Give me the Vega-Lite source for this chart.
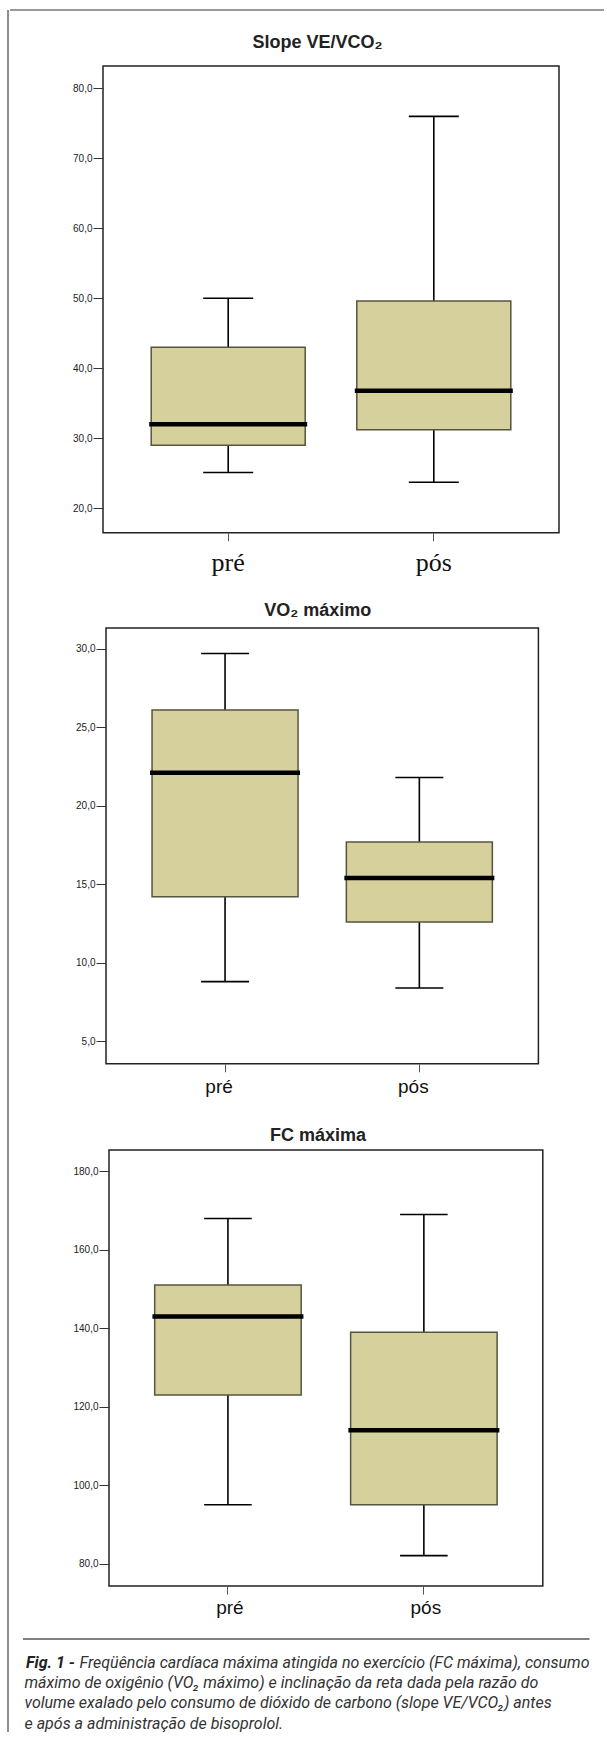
{
  "$schema": "https://vega.github.io/schema/vega-lite/v6.json",
  "background": "white",
  "padding": {"left": 7, "top": 9, "right": 0, "bottom": 0},
  "datasets": {
    "boxes": [
      {"panel": "slope", "group": "pré", "min": 25.1, "q1": 29.0, "median": 32.0, "q3": 43.0, "max": 50.0},
      {"panel": "slope", "group": "pós", "min": 23.7, "q1": 31.2, "median": 36.8, "q3": 49.6, "max": 76.0},
      {"panel": "vo2", "group": "pré", "min": 8.8, "q1": 14.2, "median": 22.1, "q3": 26.1, "max": 29.7},
      {"panel": "vo2", "group": "pós", "min": 8.4, "q1": 12.6, "median": 15.4, "q3": 17.7, "max": 21.8},
      {"panel": "fc", "group": "pré", "min": 95, "q1": 123, "median": 143, "q3": 151, "max": 168},
      {"panel": "fc", "group": "pós", "min": 82, "q1": 95, "median": 114, "q3": 139, "max": 169}
    ],
    "caption": [
      {"line": 1, "part": "lead", "text": "Fig. 1 -"},
      {"line": 1, "part": "body", "text": "Freqüência cardíaca máxima atingida no exercício (FC máxima), consumo"},
      {"line": 2, "part": "body", "text": "máximo de oxigênio (VO₂ máximo) e inclinação da reta dada pela razão do"},
      {"line": 3, "part": "body", "text": "volume exalado pelo consumo de dióxido de carbono (slope VE/VCO₂) antes"},
      {"line": 4, "part": "body", "text": "e após a administração de bisoprolol."}
    ],
    "edges": [{"edge": "border"}],
    "separator": [{"level": -0.434}]
  },
  "spacing": 0,
  "hconcat": [
    {
      "width": 1,
      "height": 1722,
      "view": {"stroke": null},
      "data": {"name": "edges"},
      "mark": {"type": "rule", "color": "#8f8f8f", "strokeWidth": 2},
      "encoding": {"x": {"datum": 0, "type": "quantitative", "scale": {"domain": [0, 1]}, "axis": null}}
    },
    {
      "spacing": 0,
      "vconcat": [
        {
          "width": 594,
          "height": 21.5,
          "view": {"stroke": null},
          "data": {"name": "edges"},
          "mark": {"type": "rule", "color": "#9a9a9a", "strokeWidth": 2},
          "encoding": {"y": {"datum": 1, "type": "quantitative", "scale": {"domain": [0, 1]}, "axis": null}}
        },
        {
          "spacing": 0,
          "hconcat": [
            {
              "width": 32, "height": 1,
              "view": {"stroke": null},
              "data": {"name": "edges"},
              "mark": {"type": "point", "opacity": 0},
              "encoding": {}
            },
            {
              "width": 456,
              "height": 466.7,
              "title": {"text": "Slope VE/VCO₂", "font": "Liberation Sans", "fontSize": 18, "fontWeight": "bold", "color": "#222", "baseline": "alphabetic", "offset": 0.3, "anchor": "middle", "dx": -13.6},
              "data": {"name": "boxes"},
              "transform": [{"filter": "datum.panel == 'slope'"}],
              "encoding": {
                "x": {"field": "group", "type": "nominal", "sort": ["pré", "pós"], "title": null,
                  "scale": {"type": "band", "paddingInner": 0, "paddingOuter": 0.109},
                  "axis": {"title": null, "domain": false, "ticks": true, "tickSize": 8, "tickColor": "#555", "labelAngle": 0, "labelFont": "Liberation Serif", "labelFontSize": 26, "labelColor": "#111", "labelBaseline": "alphabetic", "labelPadding": 29.5, "minExtent": 67.3, "maxExtent": 67.3}}
              },
              "layer": [
                {"mark": {"type": "rule", "color": "#000", "strokeWidth": 1.6},
                 "encoding": {"y": {"field": "min", "type": "quantitative", "title": null,
                   "scale": {"domain": [16.5, 83.2], "nice": false, "zero": false},
                   "axis": {"title": null, "values": [20, 30, 40, 50, 60, 70, 80], "labelExpr": "replace(format(datum.value, '.1f'), '.', ',')", "domain": false, "grid": false, "tickSize": 10, "tickColor": "#333", "labelFont": "Liberation Sans", "labelFontSize": 10, "labelColor": "#222", "labelPadding": 1, "minExtent": 60, "maxExtent": 60}},
                   "y2": {"field": "max"}}},
                {"mark": {"type": "bar", "size": 154, "fill": "#d5d09c", "stroke": "#55553f", "strokeWidth": 1.5},
                 "encoding": {"y": {"field": "q1", "type": "quantitative", "title": null}, "y2": {"field": "q3"}}},
                {"mark": {"type": "tick", "size": 158, "thickness": 4.5, "color": "#000", "opacity": 1},
                 "encoding": {"y": {"field": "median", "type": "quantitative", "title": null}}},
                {"mark": {"type": "tick", "size": 50, "thickness": 1.6, "color": "#000", "opacity": 1},
                 "encoding": {"y": {"field": "min", "type": "quantitative", "title": null}}},
                {"mark": {"type": "tick", "size": 50, "thickness": 1.6, "color": "#000", "opacity": 1},
                 "encoding": {"y": {"field": "max", "type": "quantitative", "title": null}}}
              ]
            }
          ]
        },
        {
          "spacing": 0,
          "hconcat": [
            {
              "width": 35, "height": 1,
              "view": {"stroke": null},
              "data": {"name": "edges"},
              "mark": {"type": "point", "opacity": 0},
              "encoding": {}
            },
            {
              "width": 432.4,
              "height": 435.8,
              "title": {"text": "VO₂ máximo", "font": "Liberation Sans", "fontSize": 18, "fontWeight": "bold", "color": "#222", "baseline": "alphabetic", "offset": -6.2, "anchor": "middle", "dx": -4.4},
              "data": {"name": "boxes"},
              "transform": [{"filter": "datum.panel == 'vo2'"}],
              "encoding": {
                "x": {"field": "group", "type": "nominal", "sort": ["pré", "pós"], "title": null,
                  "scale": {"type": "band", "paddingInner": 0, "paddingOuter": 0.1127},
                  "axis": {"title": null, "domain": false, "ticks": true, "tickSize": 8, "tickColor": "#555", "labelAngle": 0, "labelFont": "Liberation Sans", "labelFontSize": 19, "labelColor": "#111", "labelBaseline": "alphabetic", "labelPadding": 20.3, "labelOffset": -6, "minExtent": 60.6, "maxExtent": 60.6}}
              },
              "layer": [
                {"mark": {"type": "rule", "color": "#000", "strokeWidth": 1.6},
                 "encoding": {"y": {"field": "min", "type": "quantitative", "title": null,
                   "scale": {"domain": [3.57, 31.32], "nice": false, "zero": false},
                   "axis": {"title": null, "values": [5, 10, 15, 20, 25, 30], "labelExpr": "replace(format(datum.value, '.1f'), '.', ',')", "domain": false, "grid": false, "tickSize": 10, "tickColor": "#333", "labelFont": "Liberation Sans", "labelFontSize": 10, "labelColor": "#222", "labelPadding": 1, "minExtent": 60, "maxExtent": 60}},
                   "y2": {"field": "max"}}},
                {"mark": {"type": "bar", "size": 146, "fill": "#d5d09c", "stroke": "#55553f", "strokeWidth": 1.5},
                 "encoding": {"y": {"field": "q1", "type": "quantitative", "title": null}, "y2": {"field": "q3"}}},
                {"mark": {"type": "tick", "size": 150, "thickness": 4.5, "color": "#000", "opacity": 1},
                 "encoding": {"y": {"field": "median", "type": "quantitative", "title": null}}},
                {"mark": {"type": "tick", "size": 48, "thickness": 1.6, "color": "#000", "opacity": 1},
                 "encoding": {"y": {"field": "min", "type": "quantitative", "title": null}}},
                {"mark": {"type": "tick", "size": 48, "thickness": 1.6, "color": "#000", "opacity": 1},
                 "encoding": {"y": {"field": "max", "type": "quantitative", "title": null}}}
              ]
            }
          ]
        },
        {
          "spacing": 0,
          "hconcat": [
            {
              "width": 38, "height": 1,
              "view": {"stroke": null},
              "data": {"name": "edges"},
              "mark": {"type": "point", "opacity": 0},
              "encoding": {}
            },
            {
              "width": 433.8,
              "height": 436.1,
              "title": {"text": "FC máxima", "font": "Liberation Sans", "fontSize": 18, "fontWeight": "bold", "color": "#222", "baseline": "alphabetic", "offset": -8.8, "anchor": "middle", "dx": -8},
              "data": {"name": "boxes"},
              "transform": [{"filter": "datum.panel == 'fc'"}],
              "encoding": {
                "x": {"field": "group", "type": "nominal", "sort": ["pré", "pós"], "title": null,
                  "scale": {"type": "band", "paddingInner": 0, "paddingOuter": 0.107},
                  "axis": {"title": null, "domain": false, "ticks": true, "tickSize": 8, "tickColor": "#555", "labelAngle": 0, "labelFont": "Liberation Sans", "labelFontSize": 19, "labelColor": "#111", "labelBaseline": "alphabetic", "labelPadding": 19.2, "labelOffset": 2, "minExtent": 48.2, "maxExtent": 48.2}}
              },
              "layer": [
                {"mark": {"type": "rule", "color": "#000", "strokeWidth": 1.6},
                 "encoding": {"y": {"field": "min", "type": "quantitative", "title": null,
                   "scale": {"domain": [74.24, 185.45], "nice": false, "zero": false},
                   "axis": {"title": null, "values": [80, 100, 120, 140, 160, 180], "labelExpr": "replace(format(datum.value, '.1f'), '.', ',')", "domain": false, "grid": false, "tickSize": 10, "tickColor": "#333", "labelFont": "Liberation Sans", "labelFontSize": 10, "labelColor": "#222", "labelPadding": 1, "minExtent": 60, "maxExtent": 60}},
                   "y2": {"field": "max"}}},
                {"mark": {"type": "bar", "size": 146.5, "fill": "#d5d09c", "stroke": "#55553f", "strokeWidth": 1.5},
                 "encoding": {"y": {"field": "q1", "type": "quantitative", "title": null}, "y2": {"field": "q3"}}},
                {"mark": {"type": "tick", "size": 151, "thickness": 4.5, "color": "#000", "opacity": 1},
                 "encoding": {"y": {"field": "median", "type": "quantitative", "title": null}}},
                {"mark": {"type": "tick", "size": 47.6, "thickness": 1.6, "color": "#000", "opacity": 1},
                 "encoding": {"y": {"field": "min", "type": "quantitative", "title": null}}},
                {"mark": {"type": "tick", "size": 47.6, "thickness": 1.6, "color": "#000", "opacity": 1},
                 "encoding": {"y": {"field": "max", "type": "quantitative", "title": null}}}
              ]
            }
          ]
        },
        {
          "spacing": 0,
          "hconcat": [
            {
              "width": 12, "height": 1,
              "view": {"stroke": null},
              "data": {"name": "edges"},
              "mark": {"type": "point", "opacity": 0},
              "encoding": {}
            },
            {
              "width": 566.5,
              "height": 89.7,
              "view": {"stroke": null},
              "layer": [
                {"data": {"name": "separator"},
                 "mark": {"type": "rule", "color": "#555", "strokeWidth": 1.3},
                 "encoding": {"y": {"field": "level", "type": "quantitative", "title": null,
                   "scale": {"domain": [-0.434, 4], "reverse": true, "nice": false, "zero": false}, "axis": null}}},
                {"data": {"name": "caption"},
                 "transform": [{"filter": "datum.part == 'lead'"}],
                 "mark": {"type": "text", "align": "left", "baseline": "alphabetic", "dx": 3, "font": "Roboto", "fontSize": 16, "fontStyle": "italic", "fontWeight": "bold", "color": "#222"},
                 "encoding": {"x": {"datum": 0, "type": "quantitative", "title": null, "scale": {"domain": [0, 1]}, "axis": null},
                   "y": {"field": "line", "type": "quantitative", "title": null},
                   "text": {"field": "text"}}},
                {"data": {"name": "caption"},
                 "transform": [{"filter": "datum.part == 'body' && datum.line == 1"}],
                 "mark": {"type": "text", "align": "right", "baseline": "alphabetic", "font": "Roboto", "fontSize": 16, "fontStyle": "italic", "color": "#333"},
                 "encoding": {"x": {"datum": 1, "type": "quantitative", "title": null},
                   "y": {"field": "line", "type": "quantitative", "title": null},
                   "text": {"field": "text"}}},
                {"data": {"name": "caption"},
                 "transform": [{"filter": "datum.line > 1"}],
                 "mark": {"type": "text", "align": "left", "baseline": "alphabetic", "dx": 1.5, "font": "Roboto", "fontSize": 16, "fontStyle": "italic", "color": "#333"},
                 "encoding": {"x": {"datum": 0, "type": "quantitative", "title": null},
                   "y": {"field": "line", "type": "quantitative", "title": null},
                   "text": {"field": "text"}}}
              ]
            }
          ]
        }
      ]
    }
  ],
  "config": {
    "view": {"stroke": "#222", "strokeWidth": 1.5},
    "font": "Liberation Sans"
  }
}
